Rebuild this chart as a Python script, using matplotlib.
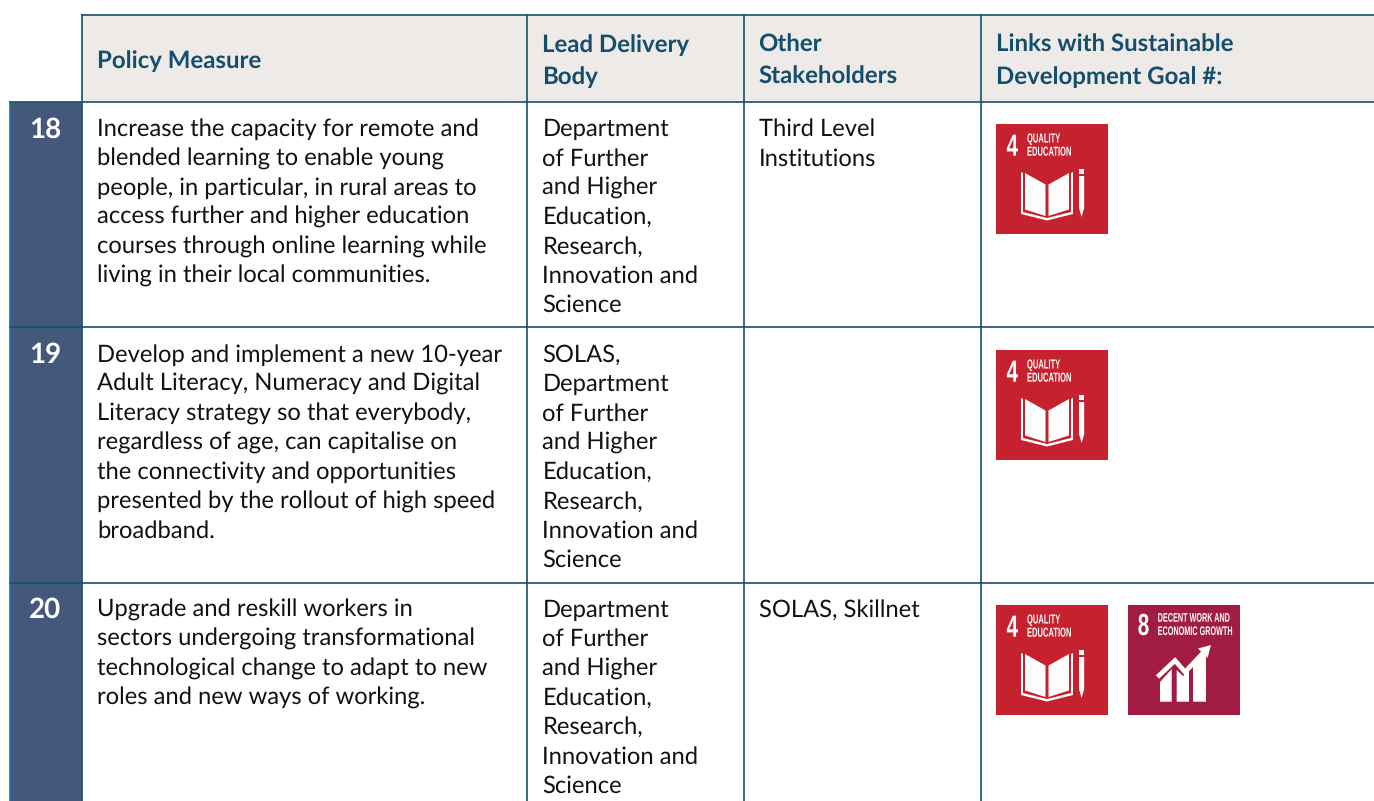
import matplotlib
matplotlib.use("Agg")
import matplotlib.pyplot as plt
from matplotlib.patches import Rectangle, Polygon
from matplotlib.patheffects import AbstractPathEffect
from matplotlib.transforms import Affine2D

plt.rcParams['font.family'] = ['Lato', 'DejaVu Sans']
plt.rcParams['text.hinting'] = 'no_hinting'

W, H = 1374, 801
NAVY = '#134f6d'; LINE = '#14506f'; HEAD_BG = '#edeae7'; NUM_BG = '#44587c'; NUM_EDGE = '#1f6f9f'
RED = '#c5212e'; MAROON = '#a21b42'; INK = '#111111'

headers = [(97, ['Policy Measure'], 68), (542.5, ['Lead Delivery', 'Body'], 52), (758.5, ['Other', 'Stakeholders'], 52),
           (996, ['Links with Sustainable', 'Development Goal #:'], 52)]
numbers = ['18', '19', '20']
row_tops = [102, 327, 583]
text_base = [136, 361.7, 616.7]
icon_top = [124, 350, 605]
col_lines = [82, 527, 744, 981]

policy = [
    ['Increase the capacity for remote and', 'blended learning to enable young', 'people, in particular, in rural areas to',
     'access further and higher education', 'courses through online learning while', 'living in their local communities.'],
    ['Develop and implement a new 10-year', 'Adult Literacy, Numeracy and Digital', 'Literacy strategy so that everybody,',
     'regardless of age, can capitalise on', 'the connectivity and opportunities', 'presented by the rollout of high speed', 'broadband.'],
    ['Upgrade and reskill workers in', 'sectors undergoing transformational', 'technological change to adapt to new', 'roles and new ways of working.'],
]
lead = [
    ['Department', 'of Further', 'and Higher', 'Education,', 'Research,', 'Innovation and', 'Science'],
    ['SOLAS,', 'Department', 'of Further', 'and Higher', 'Education,', 'Research,', 'Innovation and', 'Science'],
    ['Department', 'of Further', 'and Higher', 'Education,', 'Research,', 'Innovation and', 'Science'],
]
others = [['Third Level', 'Institutions'], [], ['SOLAS, Skillnet']]
goals = [[4], [4], [4, 8]]
goal_text = {4: ('4', ['QUALITY', 'EDUCATION']), 8: ('8', ['DECENT WORK AND', 'ECONOMIC GROWTH'])}
goal_color = {4: RED, 8: MAROON}

fig = plt.figure(figsize=(W / 100, H / 100), dpi=100)
ax = fig.add_axes([0, 0, 1, 1])
ax.set_xlim(0, W); ax.set_ylim(H, 0); ax.axis('off')

FS = 17.12
FSB = 17.3
LH = 29.35
ICON_FONT = 'Liberation Sans'


class Squeeze(AbstractPathEffect):
    """Draw a text narrower, about its left edge: the icons use a condensed face."""
    def __init__(self, x_px, factor):
        super().__init__()
        self.x0 = ax.transData.transform((x_px, 0))[0]
        self.factor = factor

    def draw_path(self, renderer, gc, tpath, affine, rgbFace=None):
        a = affine + Affine2D().translate(-self.x0, 0).scale(self.factor, 1).translate(self.x0, 0)
        renderer.draw_path(gc, tpath, a, rgbFace)


def lines(x, y, rows, **kw):
    for i, s in enumerate(rows):
        ax.text(x, y + i * LH, s, va='baseline', ha='left', **kw)


def squeezed(x, y, s, size, factor):
    ax.text(x, y, s, color='white', fontsize=size, fontweight='bold', ha='left', va='baseline',
            family=ICON_FONT, path_effects=[Squeeze(x, factor)])


def icon(x, y, g):
    c = goal_color[g]
    big, small = goal_text[g]
    ax.add_patch(Rectangle((x, y), 112, 110, fc=c, ec='none'))
    if g == 4:
        squeezed(x + 10.5, y + 31.7, big, 22, 0.68)
        squeezed(x + 31, y + 18.5, small[0], 9.4, 0.58)
        squeezed(x + 31, y + 31.7, small[1], 9.4, 0.58)
        ax.add_patch(Polygon([(x+25, y+48), (x+25, y+90), (x+51, y+96.5), (x+77, y+90), (x+77, y+48),
                              (x+75, y+49), (x+75, y+88), (x+51, y+94), (x+27, y+88), (x+27, y+49)], fc='white', ec='none'))
        ax.add_patch(Polygon([(x+29, y+49), (x+49.5, y+60.5), (x+49.5, y+92), (x+29, y+85.5)], fc='white', ec='none'))
        ax.add_patch(Polygon([(x+73, y+49), (x+52.5, y+60.5), (x+52.5, y+92), (x+73, y+85.5)], fc='white', ec='none'))
        ax.add_patch(Rectangle((x+83, y+45), 5.2, 5, fc='white', ec='none'))
        ax.add_patch(Polygon([(x+83, y+52), (x+88.2, y+52), (x+88.2, y+84), (x+85.6, y+93), (x+83, y+84)], fc='white', ec='none'))
    else:
        squeezed(x + 9.7, y + 30, big, 22, 0.68)
        squeezed(x + 29.7, y + 16.7, small[0], 9.0, 0.58)
        squeezed(x + 29.7, y + 30, small[1], 9.0, 0.58)
        ax.add_patch(Polygon([(x+32, y+77), (x+43.7, y+64), (x+43.7, y+96.7), (x+32, y+96.7)], fc='white', ec='none'))
        ax.add_patch(Polygon([(x+48.7, y+65), (x+55, y+71), (x+61, y+65), (x+61, y+96.7), (x+48.7, y+96.7)], fc='white', ec='none'))
        ax.add_patch(Polygon([(x+65, y+60), (x+78, y+48), (x+78, y+96.7), (x+65, y+96.7)], fc='white', ec='none'))
        ax.plot([x+29.5, x+47, x+57, x+76], [y+72, y+55.5, y+67, y+47], color='white', lw=3.4,
                solid_joinstyle='miter', solid_capstyle='butt')
        ax.add_patch(Polygon([(x+70, y+43.5), (x+83, y+40), (x+79.5, y+53)], fc='white', ec='none'))


ax.add_patch(Rectangle((82, 15), W - 82, 87, fc=HEAD_BG, ec='none', zorder=0))
for x, rows, y in headers:
    for i, s in enumerate(rows):
        ax.text(x, y + i * 32, s, color=NAVY, fontsize=FSB, fontweight='bold', va='baseline', ha='left')

ax.add_patch(Rectangle((10, 102), 72, H - 102, fc=NUM_BG, ec='none', zorder=1))
ax.plot([10, 10], [102, H], color=NUM_EDGE, lw=1.2, zorder=2)

ax.plot([82, W], [15, 15], color=LINE, lw=1.2, zorder=3)
for x in col_lines:
    ax.plot([x, x], [15, H], color=LINE, lw=1.2, zorder=3)
for t in row_tops:
    ax.plot([10, W], [t, t], color=LINE, lw=1.2, zorder=3)

for r, base in enumerate(text_base):
    ax.text(45.5, base + 1.4, numbers[r], color='white', fontsize=20, fontweight='bold', ha='center', va='baseline', zorder=4)
    lines(97, base, policy[r], color=INK, fontsize=FS)
    lines(542.5, base, lead[r], color=INK, fontsize=FS)
    lines(759, base, others[r], color=INK, fontsize=FS)
    for j, g in enumerate(goals[r]):
        icon(996 + j * 132, icon_top[r], g)

fig.savefig('out.png', dpi=100)
